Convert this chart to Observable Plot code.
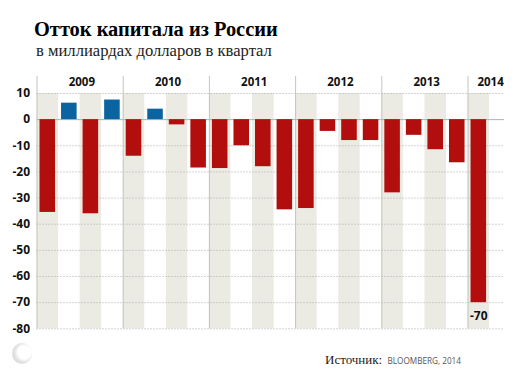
<!doctype html>
<html lang="ru"><head><meta charset="utf-8">
<script src="https://cdn.jsdelivr.net/npm/d3@7"></script>
<script src="https://cdn.jsdelivr.net/npm/@observablehq/plot@0.6"></script>
<style>
html,body{margin:0;padding:0;background:#fff;overflow:hidden;width:521px;height:374px}
#head{height:70px;position:relative;font-family:"Liberation Serif",serif;color:#111}
#t{position:absolute;left:34px;top:16px;font-size:20.4px;font-weight:bold;line-height:26px;white-space:nowrap;color:#000}
#s{position:absolute;left:36px;top:41px;font-size:16.6px;line-height:20px;white-space:nowrap;color:#222}
#foot{position:relative;height:34px}
#src{position:absolute;left:325px;top:12px;font:13px "Liberation Serif",serif;color:#222;white-space:nowrap}
#src span{font:8.2px "Open Sans",sans-serif;color:#555;margin-left:2px}
#globe{position:absolute;left:12px;top:3px;width:20px;height:21px;border-radius:50%;background:radial-gradient(circle at 62% 45%,#fff 0 38%,#e2e2e2 58%,#d8d8d8 80%,#eee 100%)}
svg{display:block}
</style></head><body>
<div id="head"><div id="t">Отток капитала из России</div><div id="s">в миллиардах долларов в квартал</div></div>
<div id="chart"></div>
<div id="foot"><div id="globe"></div><div id="src">Источник: <span>BLOOMBERG, 2014</span></div></div>
<script>
const years = [2009, 2010, 2011, 2012, 2013, 2014];
const outflow = [
  -35.5, 6.3, -36, 7.5,
  -14, 4, -2, -18.5,
  -18.7, -10, -18, -34.5,
  -34, -4.5, -8, -8,
  -28, -6, -11.5, -16.5,
  -70
];
const yTicks = [10, 0, -10, -20, -30, -40, -50, -60, -70, -80];
const calloutValue = -70;
const fontAxis = '"Open Sans", sans-serif';

const quarters = outflow.map((v, i) => ({start: 2009 + i / 4, end: 2009 + (i + 1) / 4, v, i}));
const shaded = quarters.filter(d => d.i % 2 === 0);
const last = quarters[quarters.length - 1];

const plot = Plot.plot({
  width: 521, height: 270,
  marginLeft: 36.5, marginRight: 17, marginTop: 6, marginBottom: 11.7,
  x: {domain: [2009, 2014.423], axis: null},
  y: {domain: [-80, 16.5], axis: null},
  style: {background: "#fff", overflow: "visible"},
  marks: [
    Plot.rectY(shaded, {x1: "start", x2: "end", y1: -80, y2: 10, fill: "#ecebe3"}),
    Plot.ruleY(yTicks.filter(d => d !== 0), {stroke: "#aaa", strokeWidth: 1, strokeDasharray: "1,2"}),
    Plot.ruleX(years, {y1: -80, y2: 16.5, stroke: "#c4c4c0", strokeWidth: 1}),
    Plot.ruleY([0], {stroke: "#b0b0b0", strokeWidth: 1}),
    Plot.rectY(quarters, {x1: "start", x2: "end", y1: 0, y2: "v", insetLeft: 3, insetRight: 3,
      fill: d => d.v < 0 ? "#b20e0e" : "#0b63a0"}),
    Plot.text(years, {x: d => d === 2014 ? d + 0.262 : d + 0.52, y: 14.2, text: d => String(d),
      fontFamily: fontAxis, fontWeight: 700, fontSize: 11.5, fill: "#111"}),
    Plot.text(yTicks, {dx: -7, x: 2009, y: d => d, text: d => String(d), textAnchor: "end",
      fontFamily: fontAxis, fontWeight: 700, fontSize: 12, fill: "#111"}),
    Plot.text([calloutValue], {x: last.start + 0.125, y: -75, text: d => String(d),
      fontFamily: fontAxis, fontWeight: 700, fontSize: 12, fill: "#111"})
  ]
});
document.getElementById("chart").append(plot);
</script></body></html>
